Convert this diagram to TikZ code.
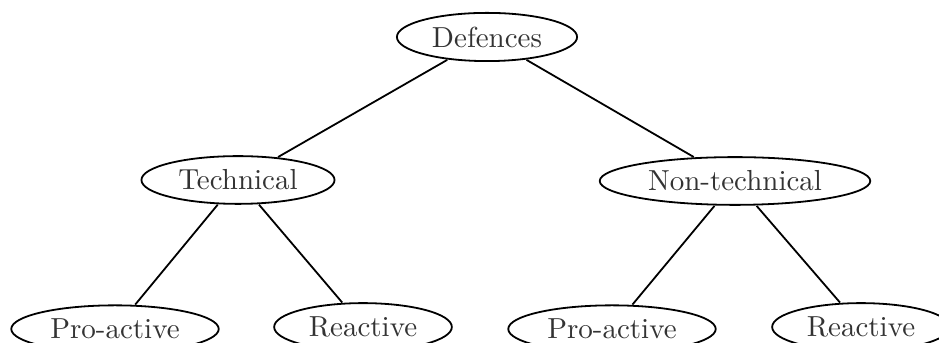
\documentclass[tikz,border=0pt]{standalone}
\usepackage{amsmath}
\usepackage{xcolor}
\usepackage{tikz}
\usetikzlibrary{shapes.geometric}

\begin{document}
\begin{tikzpicture}[scale=1.45, x=0.345pt, y=0.345pt]
		\tikzstyle{every node}+=[draw=black, ellipse, transform shape, inner xsep=3pt, inner ysep=2.3pt, line width=0.9pt, text=black!80]
		\useasboundingbox (0,0) rectangle (939,-343);
		\node (def) at (487,-37) {Defences};
		\node (tech) at (238,-180) {Technical};
		\node (nontech) at (735,-181) {Non-technical};
		\node (techpro) at (115,-329) {Pro-active};
		\node (techre) at (363,-327) {Reactive};
		\node (nonpro) at (612,-329) {Pro-active};
		\node (nonre) at (861,-327) {Reactive};
		\draw [black, line width=0.9pt] (def) -- (tech);
		\draw [black, line width=0.9pt] (def) -- (nontech);
		\draw [black, line width=0.9pt] (tech) -- (techpro);
		\draw [black, line width=0.9pt] (tech) -- (techre);
		\draw [black, line width=0.9pt] (nontech) -- (nonpro);
		\draw [black, line width=0.9pt] (nontech) -- (nonre);
\end{tikzpicture}
\end{document}
